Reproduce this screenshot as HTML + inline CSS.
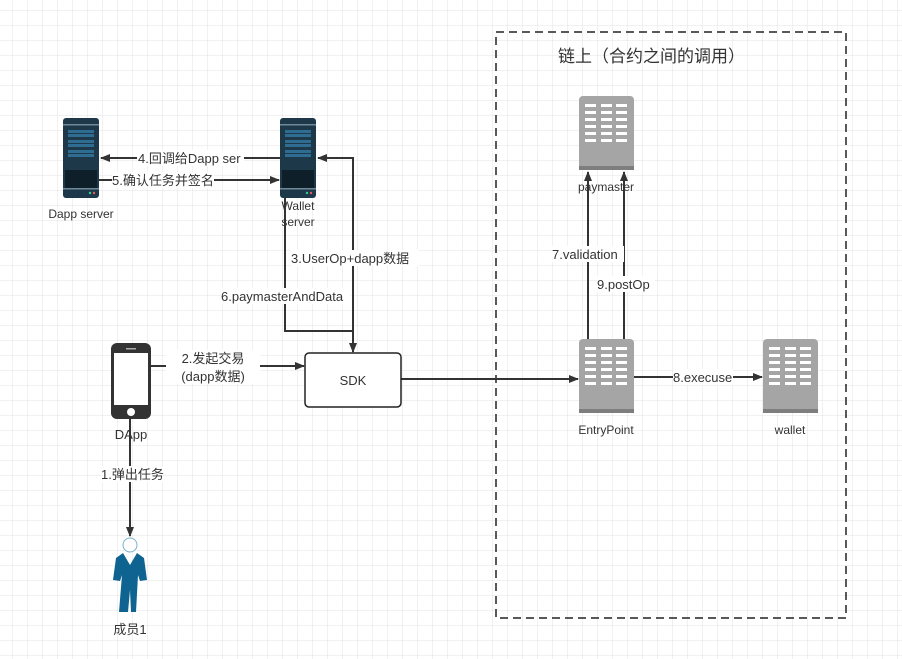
<!DOCTYPE html>
<html><head><meta charset="utf-8"><style>
html,body{margin:0;padding:0;background:#fff;}
svg{display:block;}
text{font-family:"Liberation Sans","Noto Sans CJK SC",sans-serif;fill:#333;}
</style></head><body>
<svg width="902" height="659" viewBox="0 0 902 659" xmlns="http://www.w3.org/2000/svg">
<defs>
<pattern id="g" x="12" y="10" width="15" height="15" patternUnits="userSpaceOnUse">
<path d="M0 0H15M0 0V15" stroke="#e3e3e3" stroke-width="1" fill="none"/>
</pattern>
<marker id="a" markerWidth="10" markerHeight="10" refX="9" refY="5" orient="auto" markerUnits="userSpaceOnUse">
<path d="M0,1 L10,5 L0,9 Z" fill="#333"/>
</marker>
<g id="srv">
<rect x="0" y="0" width="36" height="80" rx="3" fill="#1d3949"/>
<rect x="0" y="6" width="36" height="1.5" fill="#6f8796"/>
<rect x="5" y="12" width="26" height="3" fill="#2e6d91"/><rect x="5" y="16" width="26" height="3" fill="#2e6d91"/>
<rect x="5" y="22" width="26" height="3" fill="#2e6d91"/><rect x="5" y="26" width="26" height="3" fill="#2e6d91"/>
<rect x="5" y="32" width="26" height="3" fill="#2e6d91"/><rect x="5" y="36" width="26" height="3" fill="#2e6d91"/>
<rect x="2" y="52" width="32" height="18" fill="#0f1f29"/>
<rect x="0" y="70" width="36" height="1.5" fill="#6f8796"/>
<circle cx="27" cy="75" r="1.2" fill="#3c9"/><circle cx="31" cy="75" r="1.2" fill="#e55"/>
</g>
<g id="blk">
<rect x="0" y="0" width="55" height="74" rx="4" fill="#a5a5a5"/>
<rect x="0" y="70" width="55" height="4" fill="#7e7e7e"/>
<g fill="#fff">
<rect x="6" y="8" width="11" height="3"/><rect x="22" y="8" width="11" height="3"/><rect x="37" y="8" width="11" height="3"/>
<rect x="6" y="15" width="11" height="3"/><rect x="22" y="15" width="11" height="3"/><rect x="37" y="15" width="11" height="3"/>
<rect x="6" y="22" width="11" height="3"/><rect x="22" y="22" width="11" height="3"/><rect x="37" y="22" width="11" height="3"/>
<rect x="6" y="29" width="11" height="3"/><rect x="22" y="29" width="11" height="3"/><rect x="37" y="29" width="11" height="3"/>
<rect x="6" y="36" width="11" height="3"/><rect x="22" y="36" width="11" height="3"/><rect x="37" y="36" width="11" height="3"/>
<rect x="6" y="43" width="11" height="3"/><rect x="22" y="43" width="11" height="3"/><rect x="37" y="43" width="11" height="3"/>
</g>
</g>
</defs>
<rect width="902" height="659" fill="url(#g)"/>

<rect x="496" y="32" width="350" height="586" fill="none" stroke="#222" stroke-width="1.5" stroke-dasharray="8,5"/>
<text x="558" y="62" font-size="17">链上（合约之间的调用）</text>

<use href="#srv" x="63" y="118"/>
<use href="#srv" x="280" y="118"/>
<text x="81" y="218" font-size="12" text-anchor="middle">Dapp server</text>
<text x="298" y="210" font-size="12" text-anchor="middle">Wallet</text>
<text x="298" y="226" font-size="12" text-anchor="middle">server</text>

<g stroke="#333" stroke-width="2" fill="none">
<line x1="280" y1="158" x2="101" y2="158" marker-end="url(#a)"/>
<line x1="98" y1="180" x2="279" y2="180" marker-end="url(#a)"/>
<polyline points="353,352 353,158 318,158" marker-end="url(#a)"/>
<line x1="353" y1="250" x2="353" y2="352" marker-end="url(#a)"/>
<polyline points="285,198 285,331 353,331"/>
<line x1="150" y1="366" x2="304" y2="366" marker-end="url(#a)"/>
<line x1="401" y1="379" x2="578" y2="379" marker-end="url(#a)"/>
<line x1="588" y1="339" x2="588" y2="172" marker-end="url(#a)"/>
<line x1="624" y1="339" x2="624" y2="172" marker-end="url(#a)"/>
<line x1="634" y1="377" x2="762" y2="377" marker-end="url(#a)"/>
<line x1="130" y1="418" x2="130" y2="536" marker-end="url(#a)"/>
</g>

<g font-size="13">
<rect x="137" y="150" width="107" height="16" fill="#fff"/>
<text x="138" y="163">4.回调给Dapp ser</text>
<rect x="112" y="172" width="102" height="16" fill="#fff"/>
<text x="112" y="185">5.确认任务并签名</text>
<rect x="291" y="250" width="128" height="16" fill="#fff"/>
<text x="291" y="263">3.UserOp+dapp数据</text>
<rect x="221" y="288" width="130" height="16" fill="#fff"/>
<text x="221" y="301">6.paymasterAndData</text>
<rect x="166" y="350" width="94" height="34" fill="#fff"/>
<text x="213" y="363" text-anchor="middle">2.发起交易</text>
<text x="213" y="381" text-anchor="middle">(dapp数据)</text>
<rect x="552" y="246" width="72" height="16" fill="#fff"/>
<text x="552" y="259">7.validation</text>
<rect x="597" y="276" width="58" height="16" fill="#fff"/>
<text x="597" y="289">9.postOp</text>
<rect x="673" y="369" width="60" height="16" fill="#fff"/>
<text x="673" y="382">8.execuse</text>
<rect x="101" y="466" width="62" height="16" fill="#fff"/>
<text x="101" y="479">1.弹出任务</text>
</g>

<rect x="305" y="353" width="96" height="54" rx="4" fill="#fff" stroke="#222" stroke-width="1.5"/>
<text x="353" y="385" font-size="13" text-anchor="middle">SDK</text>

<use href="#blk" x="579" y="96"/>
<use href="#blk" x="579" y="339"/>
<use href="#blk" x="763" y="339"/>
<text x="606" y="191" font-size="12" text-anchor="middle">paymaster</text>
<text x="606" y="434" font-size="12" text-anchor="middle">EntryPoint</text>
<text x="790" y="434" font-size="12" text-anchor="middle">wallet</text>

<rect x="111" y="343" width="40" height="76" rx="6" fill="#333"/>
<rect x="114" y="353" width="34" height="52" fill="#fff"/>
<rect x="126" y="348" width="10" height="1.5" fill="#aaa"/>
<circle cx="131" cy="412" r="4" fill="#fff"/>
<text x="131" y="439" font-size="13" text-anchor="middle">DApp</text>

<circle cx="130" cy="545" r="7" fill="#fff" stroke="#7ab0cc" stroke-width="1"/>
<path d="M123 553 L130 565 L137 553 L144 558 L147 580 L140 581 L138 575 L136 612 L131 612 L130 590 L128 612 L119 612 L122 575 L120 581 L113 580 L116 558 Z" fill="#0e6390"/>
<text x="130" y="634" font-size="13" text-anchor="middle">成员1</text>
</svg>
</body></html>
